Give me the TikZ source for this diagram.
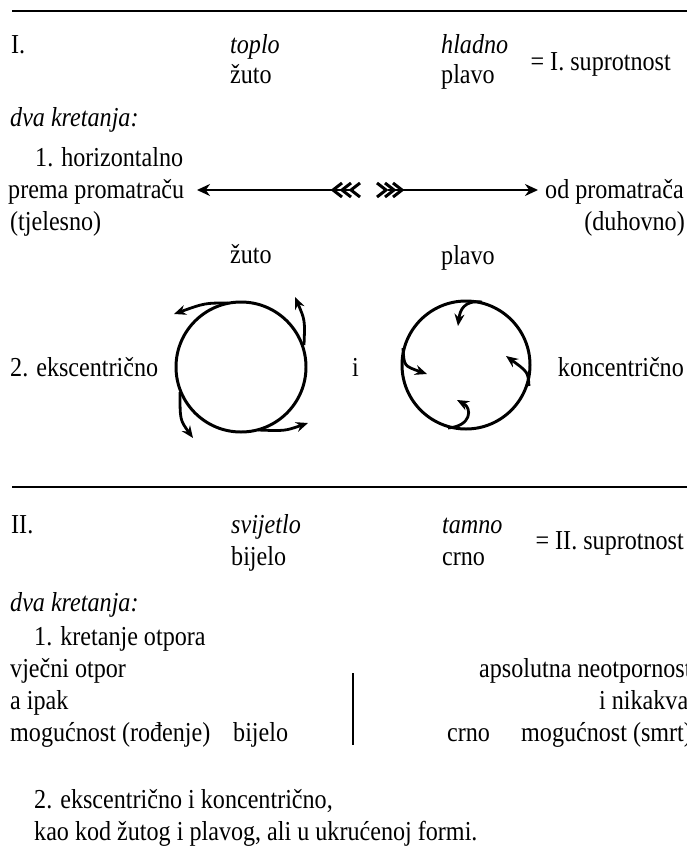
\documentclass[tikz,border=0pt]{standalone}
\usepackage{fontspec}
\setmainfont{Liberation Serif}[FakeStretch=0.88]
\usetikzlibrary{arrows.meta}
\begin{document}
\begin{tikzpicture}[x=1bp,y=-1bp,
  txt/.style={anchor=base west, inner sep=0pt, font=\fontsize{27.5}{32}\selectfont},
  rtxt/.style={anchor=base east, inner sep=0pt, font=\fontsize{27.5}{32}\selectfont},
  it/.style={txt, font=\fontsize{27.5}{32}\selectfont\itshape},
  rule/.style={line width=2.2pt},
  shaft/.style={line width=2.8pt, -{Stealth[length=13bp,width=12bp]}},
  fletch/.style={line width=3pt},
  circ/.style={line width=3pt},
  carr/.style={line width=2.8pt, -{Stealth[length=12bp,width=10bp]}}]
\useasboundingbox (0,0) rectangle (687,851);
\clip (0,0) rectangle (687,851);
% rules
\coordinate (r1a) at (12,11); \coordinate (r1b) at (690,11);
\draw[rule] (r1a) -- (r1b);
\coordinate (r2a) at (12,487); \coordinate (r2b) at (690,487);
\draw[rule] (r2a) -- (r2b);
% section I
\node[txt] (I) at (11,53) {I.};
\node[it] (toplo) at (230,53) {toplo};
\node[txt] (zuto1) at (230,83) {žuto};
\node[it] (hladno) at (441,53) {hladno};
\node[txt] (plavo1) at (441,83) {plavo};
\node[rtxt] (sup1) at (671,70) {= I. suprotnost};
\node[it] (dva1) at (10,126) {dva kretanja:};
\node[txt] (hor) at (35,166) {1. horizontalno};
\node[txt] (prema) at (8,198) {prema promatraču};
\node[rtxt] (od) at (684,198) {od promatrača};
\node[txt] (tjel) at (10,230) {(tjelesno)};
\node[rtxt] (duh) at (685,230) {(duhovno)};
\node[txt] (zuto2) at (230,263) {žuto};
\node[txt] (plavo2) at (441,264) {plavo};
\node[txt] (eks) at (10,376) {2. ekscentrično};
\node[txt] (i1) at (352,376) {i};
\node[rtxt] (konc) at (684,376) {koncentrično};
% horizontal arrows
\coordinate (lt) at (350,190); \coordinate (lh) at (197,190);
\draw[shaft] (lt) -- (lh);
\foreach \x in {333,342,351}
  \draw[fletch] (\x+9,183) -- (\x,190) -- (\x+9,197);
\coordinate (rt) at (388,190); \coordinate (rh) at (538,190);
\draw[shaft] (rt) -- (rh);
\foreach \x in {386,394,402}
  \draw[fletch] (\x-9,183) -- (\x,190) -- (\x-9,197);
% left circle (eccentric)
\coordinate (cl) at (241,367);
\draw[circ] (cl) circle[radius=65];
\coordinate (a1s) at (228,303); \coordinate (a1e) at (174,314);
\draw[carr] (a1s) .. controls (205,303) .. (a1e);
\coordinate (a2s) at (304,345); \coordinate (a2e) at (295,297);
\draw[carr] (a2s) .. controls (305,320) .. (a2e);
\coordinate (a3s) at (180,392); \coordinate (a3e) at (193,438);
\draw[carr] (a3s) .. controls (180,420) .. (a3e);
\coordinate (a4s) at (258,430); \coordinate (a4e) at (308,423);
\draw[carr] (a4s) .. controls (285,431) .. (a4e);
% right circle (concentric)
\coordinate (cr) at (466,365);
\draw[circ] (cr) circle[radius=64];
\coordinate (b1s) at (482,302); \coordinate (b1e) at (458,326);
\draw[carr] (b1s) .. controls (464,300) and (460,310) .. (b1e);
\coordinate (b2s) at (403,348); \coordinate (b2e) at (427,374);
\draw[carr] (b2s) .. controls (404,366) .. (b2e);
\coordinate (b3s) at (448,428); \coordinate (b3e) at (457,400);
\draw[carr] (b3s) .. controls (472,426) and (472,408) .. (b3e);
\coordinate (b4s) at (529,386); \coordinate (b4e) at (506,356);
\draw[carr] (b4s) .. controls (528,372) .. (b4e);
% section II
\node[txt] (II) at (11,533) {II.};
\node[it] (svj) at (231,533) {svijetlo};
\node[txt] (bij1) at (231,565) {bijelo};
\node[it] (tamno) at (442,533) {tamno};
\node[txt] (crno1) at (442,565) {crno};
\node[rtxt] (sup2) at (684,549) {= II. suprotnost};
\node[it] (dva2) at (10,611) {dva kretanja:};
\node[txt] (kret) at (34,645) {1. kretanje otpora};
\node[txt] (vjec) at (10,677) {vječni otpor};
\node[txt] (aipak) at (10,709) {a ipak};
\node[txt] (mogr) at (10,741) {mogućnost (rođenje)};
\node[txt] (bij2) at (233,741) {bijelo};
\node[txt] (aps) at (479,677) {apsolutna neotpornost};
\node[txt] (nik) at (599,709) {i nikakva};
\node[txt] (crno2) at (447,741) {crno};
\node[txt] (mogs) at (521,741) {mogućnost (smrt)};
\coordinate (va) at (353,673); \coordinate (vb) at (353,745);
\draw[line width=1.4pt] (va) -- (vb);
\node[txt] (eks2) at (34,808) {2. ekscentrično i koncentrično,};
\node[txt] (kao) at (34,840) {kao kod žutog i plavog, ali u ukrućenoj formi.};
\end{tikzpicture}
\end{document}
